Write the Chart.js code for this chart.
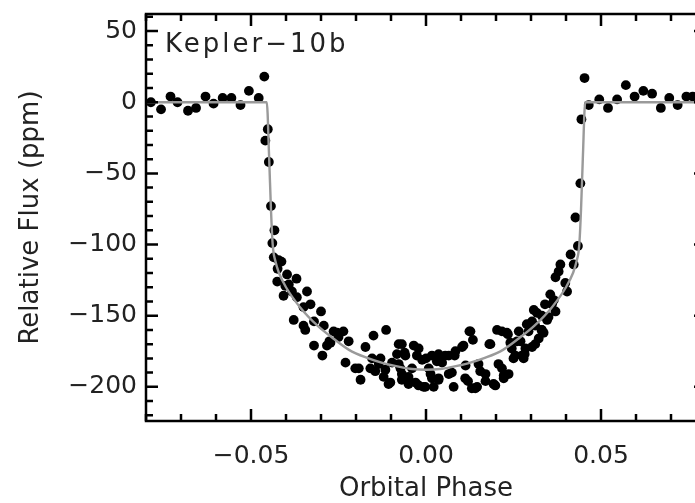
<!DOCTYPE html>
<html>
<head>
<meta charset="utf-8">
<script src="https://cdn.jsdelivr.net/npm/chart.js@4/dist/chart.umd.min.js"></script>
<style>
  html, body { margin: 0; padding: 0; overflow: hidden; background: #fff; }
  #wrap { position: absolute; left: 0; top: 0; width: 712px; height: 503px; }
</style>
</head>
<body>
<div id="wrap"><canvas id="lc" width="712" height="503"></canvas></div>
<script>
// observed points (orbital phase, relative flux in ppm)
const phase = [
  -0.0786, -0.0757, -0.0730, -0.0710, -0.0680, -0.0657, -0.0630, -0.0607, -0.0581, -0.0556, -0.0530, -0.0506, -0.0478, -0.0462,
  -0.0452, -0.0459, -0.0449, -0.0443, -0.0433, -0.0439, -0.0421, -0.0424, -0.0397, -0.0370, -0.0425, -0.0402, -0.0407, -0.0383,
  -0.0340, -0.0330, -0.0350, -0.0300, -0.0378, -0.0350, -0.0320, -0.0292, -0.0254, -0.0320, -0.0296, -0.0273, -0.0230, -0.0236,
  -0.0264, -0.0276, -0.0192, -0.0187, -0.0150, -0.0114, -0.0173, -0.0159, -0.0130, -0.0116, -0.0102, -0.0078, -0.0061, -0.0035,
  -0.0026, -0.0078, -0.0050, -0.0030, 0.0000, 0.0008, 0.0017, -0.0007, 0.0022, -0.0021, -0.0021,
  0.0031, 0.0036, 0.0055, 0.0074, 0.0082, 0.0103, 0.0113, 0.0120, 0.0124, 0.0134, 0.0146, 0.0155, 0.0170, 0.0181, 0.0193,
  0.0203, 0.0207, 0.0222, 0.0231, 0.0236, 0.0241, 0.0255, 0.0270, 0.0282, 0.0293, 0.0312, 0.0317, 0.0331, 0.0346, 0.0360,
  0.0131, 0.0198, 0.0222,
  -0.0435, -0.0413, -0.0392, -0.0369, -0.0345, -0.0283, -0.0250, -0.0221, -0.0202, -0.0154, -0.0145, -0.0121, -0.0107,
  -0.0135, -0.0097, -0.0083, -0.0069, -0.0073, -0.0069, -0.0059, -0.0040, -0.0069, -0.0050, -0.0002, 0.0013, -0.0011,
  0.0017, 0.0036, 0.0046, 0.0065, 0.0084, 0.0107, 0.0127, 0.0036, 0.0065, 0.0079, 0.0112, 0.0141, 0.0150, 0.0170,
  0.0184, 0.0217, 0.0245, 0.0260, 0.0250, 0.0279, 0.0284, 0.0303, 0.0336, 0.0350, 0.0365,
  0.0444, 0.0441, 0.0427, 0.0434, 0.0413, 0.0422, 0.0379, 0.0370, 0.0398, 0.0403, 0.0355, 0.0340, 0.0370, 0.0308,
  0.0331, 0.0288, 0.0312, 0.0330, 0.0265, 0.0217, 0.0234, 0.0384, 0.0322, 0.0303, 0.0274,
  0.0453, 0.0465, 0.0495, 0.0520, 0.0546, 0.0571, 0.0596, 0.0621, 0.0646, 0.0671, 0.0695, 0.0719, 0.0744, 0.0762
];
const flux = [
  0, -5, 4, 0, -6, -4, 4, -1, 3, 3, -2, 8, 3, 18,
  -19, -27, -42, -73, -90, -99, -111, -117, -121, -124, -126, -129, -136, -133,
  -133, -142, -144, -147, -153, -157, -154, -157, -162, -171, -178, -169, -183, -161,
  -161, -168, -187, -195, -164, -160, -172, -187, -180, -188, -197, -170, -176, -171,
  -178, -184, -193, -197, -180, -187, -194, -200, -200, -173, -199,
  -182, -194, -178, -190, -178, -172, -185, -196, -161, -167, -200, -189, -196, -170, -198,
  -160, -184, -194, -162, -191, -169, -178, -168, -177, -161, -170, -148, -160, -153, -142,
  -201, -199, -192,
  -109, -112, -128, -137, -160, -171, -165, -168, -187, -180, -189, -193, -198,
  -184, -183, -177, -170, -187, -195, -178, -187, -191, -198, -200, -191, -181,
  -178, -177, -183, -178, -175, -171, -161, -195, -191, -200, -194, -201, -184, -191,
  -170, -187, -173, -168, -180, -180, -173, -154, -162, -151, -139,
  -12, -57, -81, -101, -107, -114, -119, -123, -127, -133, -135, -142, -147, -146,
  -150, -156, -157, -160, -161, -161, -163, -114, -166, -172, -178,
  17, -2, 2, -4, 2, 12, 4, 8, 6, -4, 3, -2, 4, 4
];

// transit model curve
const modelPhase = [-0.080, -0.0455, -0.0448, -0.0443, -0.0438, -0.0430, -0.0420, -0.0400, -0.0360, -0.0310, -0.0265, -0.0220,
  -0.0170, -0.0120, -0.0075, -0.0040, 0.0000, 0.0040, 0.0075, 0.0120, 0.0170, 0.0220, 0.0265, 0.0310, 0.0360, 0.0400,
  0.0420, 0.0430, 0.0438, 0.0443, 0.0448, 0.0455, 0.080];
const modelFlux = [0, 0, -40, -75, -100, -112, -120, -130, -144, -157, -166, -174,
  -179.5, -183.5, -186, -187.5, -188, -187.5, -186, -183.5, -179.5, -174, -166, -157, -144, -130,
  -120, -112, -100, -75, -40, 0, 0];

const xTicks = [-0.05, 0, 0.05];
const yTicks = [50, 0, -50, -100, -150, -200];

const tickFont = { family: 'DejaVu Sans', size: 25 };
const titleFont = { family: 'DejaVu Sans', size: 26 };
const ink = '#222';

function minus(s) { return s.replace('-', '\u2212'); }

// frame with inward major/minor ticks on all four sides, plus the label
const frame = {
  id: 'frame',
  afterDraw(chart) {
    const { ctx, chartArea: a, scales: { x, y } } = chart;
    ctx.save();
    ctx.strokeStyle = '#000';
    ctx.lineWidth = 2.5;
    ctx.strokeRect(a.left, a.top, a.right - a.left, a.bottom - a.top);
    ctx.beginPath();
    for (let k = -8; k <= 8; k++) {
      const px = x.getPixelForValue(k * 0.01);
      const len = k % 5 === 0 ? 12 : 7;
      ctx.moveTo(px, a.bottom); ctx.lineTo(px, a.bottom - len);
      ctx.moveTo(px, a.top); ctx.lineTo(px, a.top + len);
    }
    for (let k = -22; k <= 6; k++) {
      const py = y.getPixelForValue(k * 10);
      const len = k % 5 === 0 ? 12 : 7;
      ctx.moveTo(a.left, py); ctx.lineTo(a.left + len, py);
      ctx.moveTo(a.right, py); ctx.lineTo(a.right - len, py);
    }
    ctx.stroke();

    ctx.fillStyle = ink;
    ctx.font = '26px "DejaVu Sans"';
    ctx.letterSpacing = '3px';
    ctx.textBaseline = 'alphabetic';
    ctx.fillText('Kepler\u221210b', a.left + 19, a.top + 38);
    ctx.restore();
  }
};

new Chart(document.getElementById('lc'), {
  type: 'scatter',
  data: {
    datasets: [
      {
        type: 'line',
        label: 'model',
        data: modelPhase.map((p, i) => ({ x: p, y: modelFlux[i] })),
        borderColor: '#9a9a9a',
        borderWidth: 2.4,
        pointRadius: 0,
        cubicInterpolationMode: 'monotone',
        fill: false,
        order: 0
      },
      {
        label: 'Kepler-10b',
        data: phase.map((p, i) => ({ x: p, y: flux[i] })),
        backgroundColor: '#000',
        borderWidth: 0,
        pointRadius: 4.9,
        order: 1
      }
    ]
  },
  options: {
    responsive: false,
    animation: false,
    devicePixelRatio: 1,
    layout: { padding: { top: 14, right: 6, left: 0, bottom: 0 } },
    plugins: { legend: { display: false }, tooltip: { enabled: false } },
    scales: {
      x: {
        type: 'linear',
        min: -0.08,
        max: 0.08,
        afterBuildTicks(s) { s.ticks = xTicks.map(v => ({ value: v })); },
        afterFit(s) { s.height = 82; s.paddingLeft = 0; s.paddingRight = 0; },
        grid: { display: false, drawTicks: false },
        border: { display: false },
        ticks: {
          font: tickFont, color: ink, padding: 20, maxRotation: 0,
          callback: v => minus(v.toFixed(2))
        },
        title: { display: true, text: 'Orbital Phase', font: titleFont, color: ink, padding: { top: 0, bottom: -2 } }
      },
      y: {
        min: -224,
        max: 62,
        afterBuildTicks(s) { s.ticks = yTicks.map(v => ({ value: v })); },
        afterFit(s) { s.width = 146; s.paddingTop = 0; s.paddingBottom = 0; },
        grid: { display: false, drawTicks: false },
        border: { display: false },
        ticks: {
          font: tickFont, color: ink, padding: 9,
          callback: v => minus(String(v))
        },
        title: { display: true, text: 'Relative Flux (ppm)', font: titleFont, color: ink, padding: { top: 16, bottom: 0 } }
      }
    }
  },
  plugins: [frame]
});
</script>
</body>
</html>
